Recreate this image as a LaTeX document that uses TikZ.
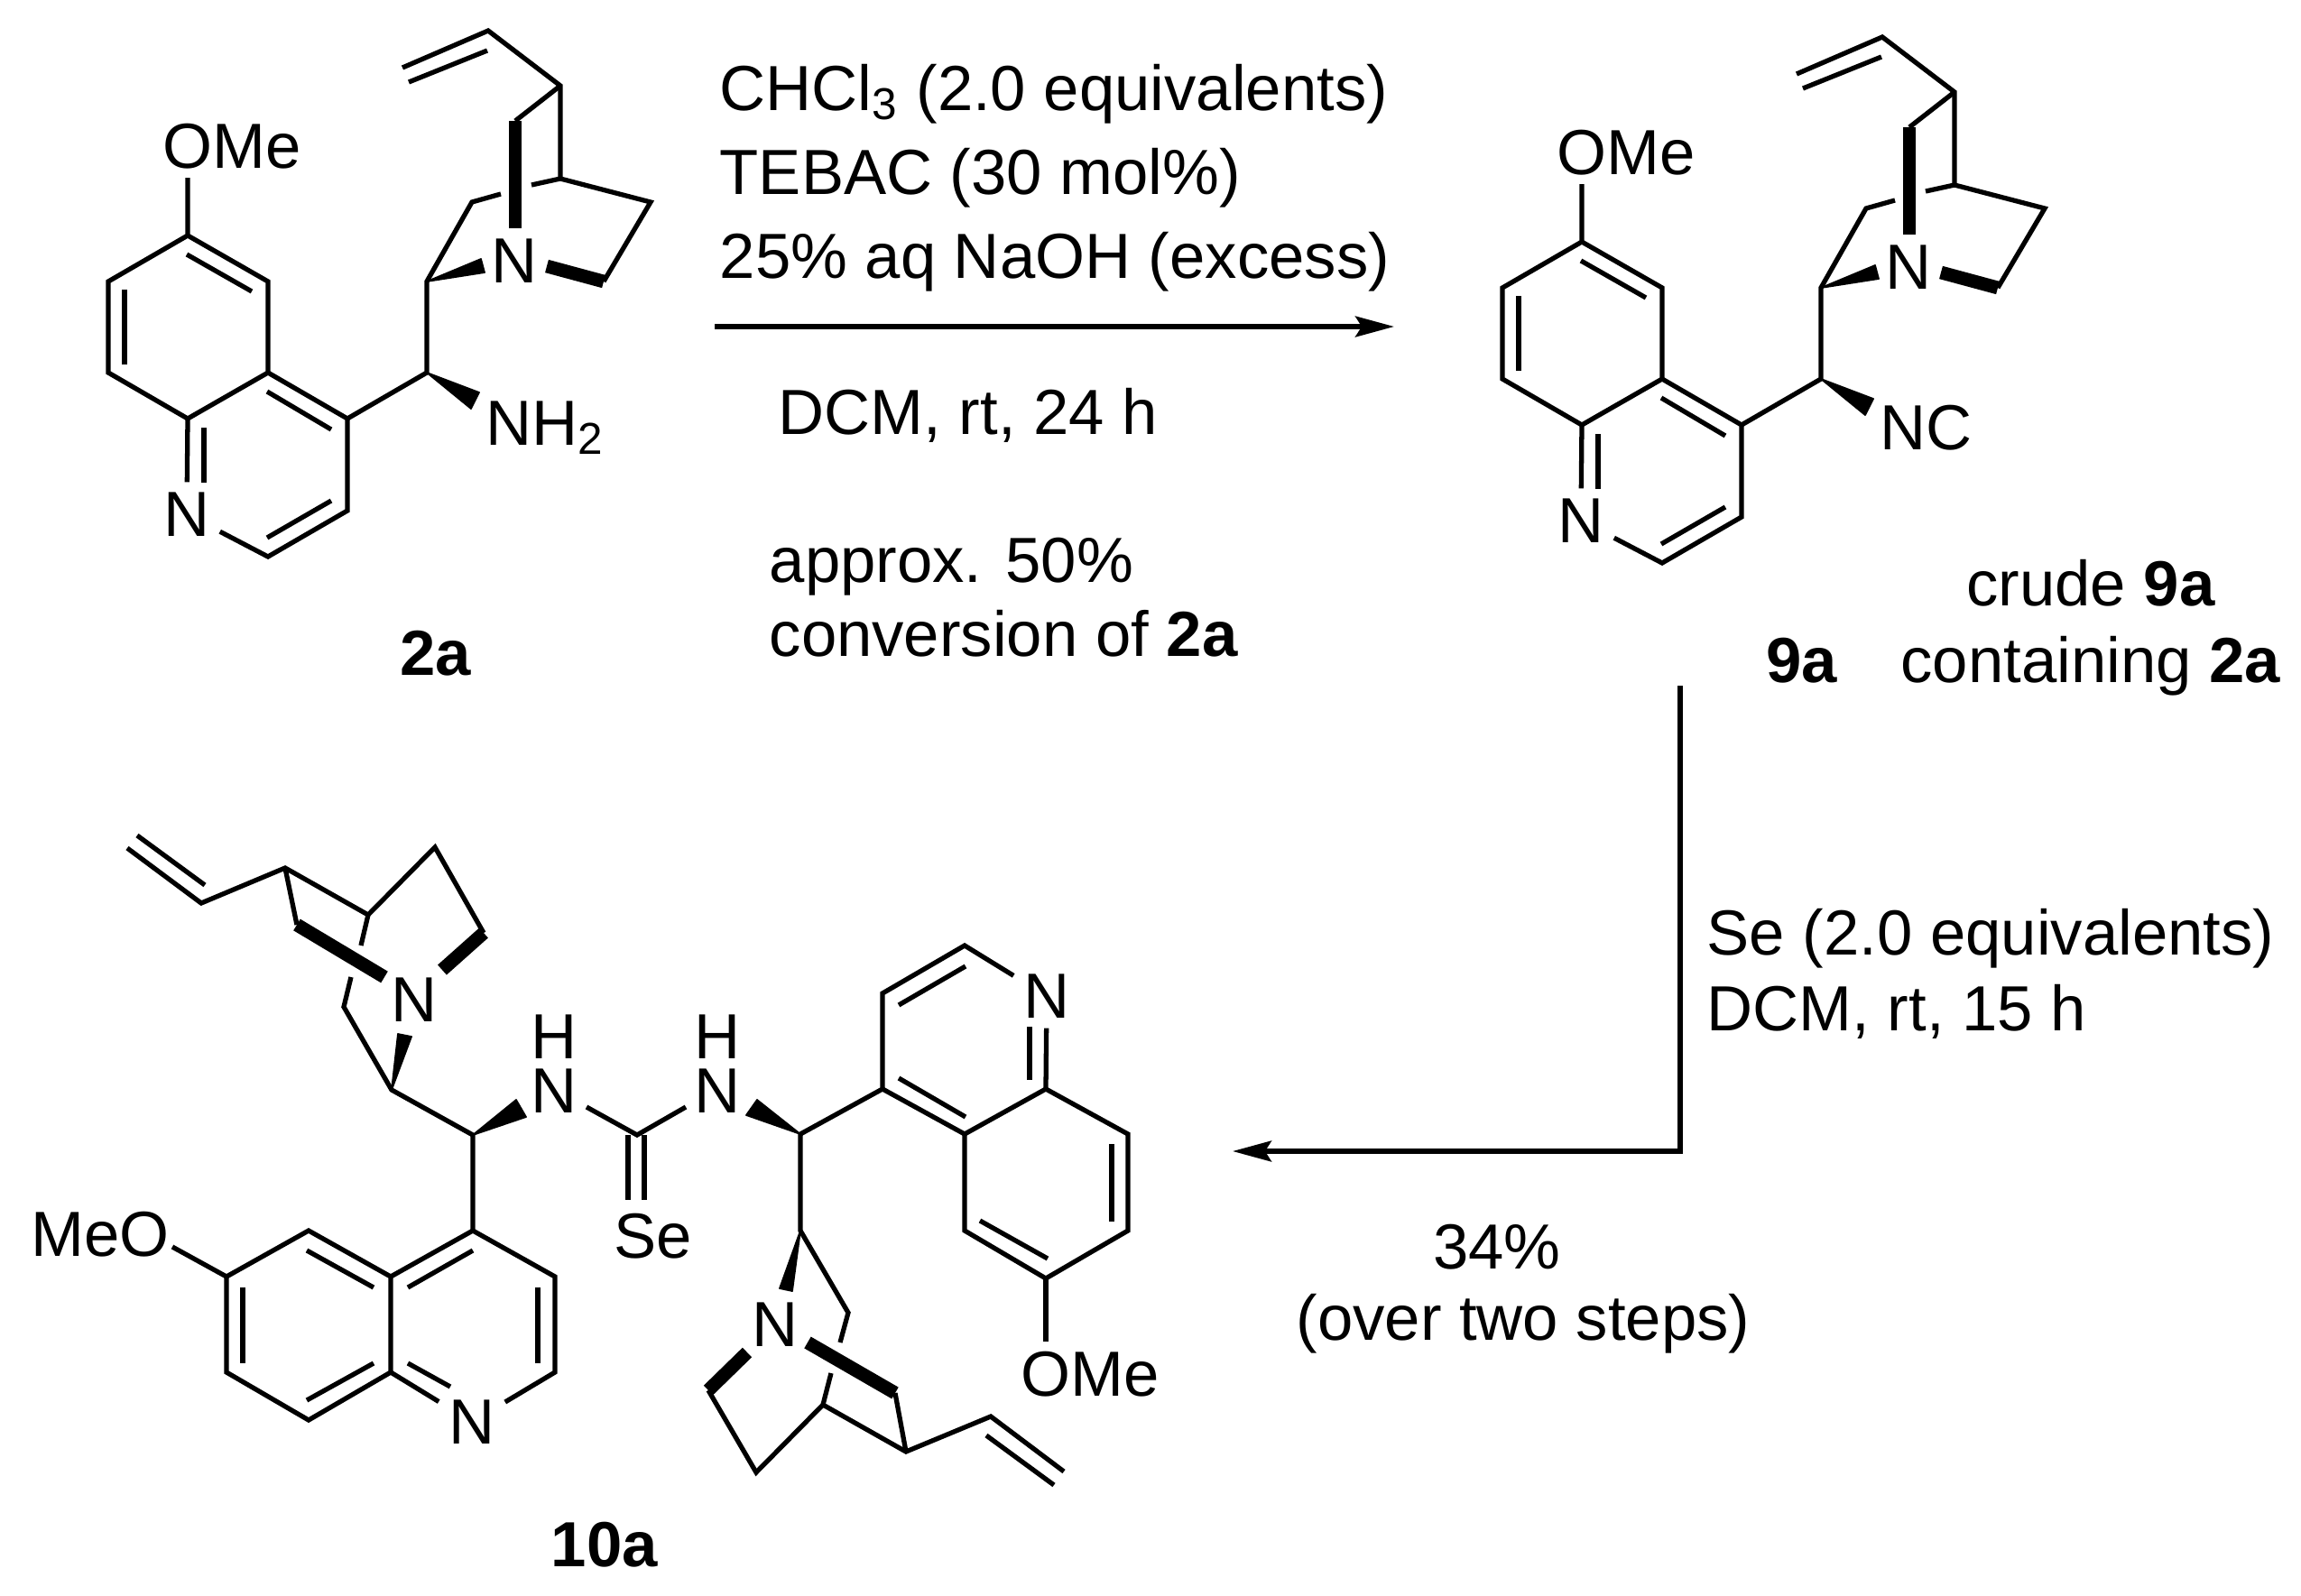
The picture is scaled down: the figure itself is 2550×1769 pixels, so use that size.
\documentclass[tikz,border=0pt]{standalone}
\usepackage{fontspec}
\setmainfont{Liberation Sans}
\usetikzlibrary{arrows.meta,calc,positioning}
\tikzset{
  bond/.style={line width=1.5pt,line join=miter},
  boldbond/.style={line width=4.2pt},
  wedge/.style={fill=black,draw=black,line width=0.5pt,line join=round},
  atom/.style={inner sep=3pt},
  lab/.style={inner sep=0pt},
  txt/.style={anchor=base west,inner sep=0pt},
  ctxt/.style={anchor=base,inner sep=0pt},
  rxn/.style={line width=1.5pt,>={Stealth[length=12.2pt,width=6.5pt,inset=2pt]}}
}
\begin{document}
\begin{tikzpicture}[x=0.01cm,y=-0.01cm,every node/.style={font=\fontsize{20.1}{24}\selectfont}]
  \useasboundingbox (0,0) rectangle (2550,1769);
  \foreach \m/\dx/\dy in {s/0/0,p/1545/7}{
    \begin{scope}[shift={(\dx,\dy)}]
      \coordinate (\m-c6) at (208,261);
      \coordinate (\m-c5) at (297,312);
      \coordinate (\m-c4a) at (297,413);
      \coordinate (\m-c8a) at (208,464);
      \coordinate (\m-c8) at (120,413);
      \coordinate (\m-c7) at (120,312);
      \coordinate (\m-c4) at (385,464);
      \coordinate (\m-c3) at (385,566);
      \coordinate (\m-c2) at (297,617);
      \coordinate (\m-c9) at (473,413);
      \coordinate (\m-c8p) at (473,312);
      \coordinate (\m-cq) at (523,224);
      \coordinate (\m-cb) at (621,198);
      \coordinate (\m-cr) at (721,224);
      \coordinate (\m-cs) at (669,312);
      \coordinate (\m-ct) at (621,95);
      \coordinate (\m-cv) at (541,34);
      \coordinate (\m-ve) at (446,75);
      \coordinate (\m-cbr) at (571,134);
      \node[atom] (\m-n1) at (207,570) {N};
      \node[atom] (\m-nq) at (570,289) {N};
      \node[lab] (\m-ome) at (257,162) {OMe};
      \coordinate (\m-oe) at (208,197);
      \draw[bond] (\m-oe) -- (\m-c6) -- (\m-c5) -- (\m-c4a) -- (\m-c8a) -- (\m-c8) -- (\m-c7) -- (\m-c6);
      \draw[bond] (\m-c4a) -- (\m-c4) -- (\m-c3) -- (\m-c2) -- (\m-n1);
      \draw[bond] (\m-c8a) -- (\m-n1);
      \draw[bond] (\m-c4) -- (\m-c9) -- (\m-c8p) -- (\m-cq) -- (555,215);
      \draw[bond] (589,205) -- (\m-cb) -- (\m-cr) -- (\m-cs);
      \draw[bond] (\m-cb) -- (\m-ct) -- (\m-cv) -- (\m-ve);
      \draw[bond] (\m-ct) -- (\m-cbr);
      \draw[bond] (207,282) -- (279,323);
      \draw[bond] (138,321) -- (138,404);
      \draw[bond] (296,434) -- (367,476);
      \draw[bond] (226,474) -- (226,535);
      \draw[bond] (367,555) -- (296,596);
      \draw[bond] (453,91) -- (540,56);
      \draw[boldbond] (\m-cbr) -- (571,253);
      \draw[boldbond] (606,295) -- (\m-cs);
      \fill[wedge] (\m-c8p) -- (533,287) -- (537,302) -- cycle;
      \fill[wedge] (\m-c9) -- (531,435) -- (522,453) -- cycle;
    \end{scope}
  }
  \node[txt] (s-nh) at (538,493) {NH\textsubscript{2}};
  \node[lab,anchor=west] (p-nc) at (2083,474) {NC};
  \node[ctxt] (lab2a) at (483,748) {\textbf{2a}};
  \node[ctxt] (lab9a) at (1997,756) {\textbf{9a}};
  \node[ctxt] (lab10a) at (670,1736) {\textbf{10a}};
  \node[ctxt] (crude) at (2317,671) {crude \textbf{9a}};
  \node[ctxt] (cont) at (2317,756) {containing \textbf{2a}};
  \node[txt] (cond1) at (797,122) {CHCl\textsubscript{3} (2.0 equivalents)};
  \node[txt] (cond2) at (797,215) {TEBAC (30 mol\%)};
  \node[txt] (cond3) at (797,308) {25\% aq NaOH (excess)};
  \node[txt] (cond4) at (862,481) {DCM, rt, 24 h};
  \node[txt] (cond5) at (852,645) {approx. 50\%};
  \node[txt] (cond6) at (852,727) {conversion of \textbf{2a}};
  \node[txt] (cond7) at (1891,1058) {Se (2.0 equivalents)};
  \node[txt] (cond8) at (1891,1142) {DCM, rt, 15 h};
  \node[ctxt] (yield1) at (1659,1406) {34\%};
  \node[ctxt] (yield2) at (1688,1485) {(over two steps)};
  \coordinate (a1s) at (792,362);
  \coordinate (a1e) at (1545,362);
  \coordinate (a2s) at (1862,760);
  \coordinate (a2m) at (1862,1276);
  \coordinate (a2e) at (1366,1276);
  \draw[rxn,->] (a1s) -- (a1e);
  \draw[rxn,->] (a2s) -- (a2m) -- (a2e);
  \coordinate (ve1) at (141,940);
  \coordinate (cv1) at (223,1001);
  \coordinate (ct1) at (316,962);
  \coordinate (cb1) at (408,1014);
  \coordinate (cu1) at (482,939);
  \coordinate (cr1) at (536,1034);
  \coordinate (cbr1) at (329,1025);
  \coordinate (cq1) at (381,1116);
  \coordinate (cs1) at (434,1208);
  \coordinate (c91) at (524,1258);
  \coordinate (c41) at (524,1364);
  \coordinate (c4a1) at (433,1415);
  \coordinate (c51) at (342,1364);
  \coordinate (c61) at (251,1415);
  \coordinate (c71) at (251,1521);
  \coordinate (c81) at (342,1574);
  \coordinate (c8a1) at (433,1521);
  \coordinate (c21) at (615,1521);
  \coordinate (c31) at (615,1415);
  \coordinate (cse) at (706,1258);
  \node[atom] (nq1) at (459,1108) {N};
  \node[atom] (n11) at (523,1576) {N};
  \node[lab,align=center] (nh1) at (614,1179) {H\\[-7pt]N};
  \node[lab,align=center] (nh2) at (795,1179) {H\\[-7pt]N};
  \node[lab] (meo) at (111,1368) {MeO};
  \node[lab] (se) at (724,1370) {Se};
  \coordinate (meoe) at (191,1382);
  \coordinate (nh1e) at (650,1227);
  \coordinate (nh2e) at (760,1227);
  \draw[bond] (ve1) -- (cv1) -- (ct1) -- (cb1) -- (cu1) -- (cr1);
  \draw[bond] (152,926) -- (227,981);
  \draw[bond] (ct1) -- (cbr1);
  \draw[bond] (cb1) -- (400,1048);
  \draw[bond] (389,1083) -- (cq1) -- (cs1) -- (c91) -- (c41);
  \draw[bond] (meoe) -- (c61) -- (c51) -- (c4a1) -- (c8a1) -- (c81) -- (c71) -- (c61);
  \draw[bond] (c4a1) -- (c41) -- (c31) -- (c21) -- (n11);
  \draw[bond] (c8a1) -- (n11);
  \draw[bond] (340,1386) -- (414,1427);
  \draw[bond] (269,1427) -- (269,1511);
  \draw[bond] (340,1552) -- (414,1511);
  \draw[bond] (452,1511) -- (499,1537);
  \draw[bond] (596,1427) -- (596,1511);
  \draw[bond] (524,1386) -- (452,1427);
  \draw[bond] (nh1e) -- (cse) -- (nh2e);
  \draw[bond] (696,1258) -- (696,1330);
  \draw[bond] (714,1258) -- (714,1330);
  \draw[boldbond] (cr1) -- (490,1075);
  \draw[boldbond] (cbr1) -- (426,1083);
  \fill[wedge] (cs1) -- (441,1146) -- (456,1149) -- cycle;
  \fill[wedge] (c91) -- (572,1219) -- (583,1238) -- cycle;
  \coordinate (c92) at (887,1257);
  \coordinate (c42) at (978,1207);
  \coordinate (c32) at (978,1101);
  \coordinate (c22) at (1069,1048);
  \coordinate (c8a2) at (1159,1207);
  \coordinate (c82) at (1250,1257);
  \coordinate (c72) at (1250,1364);
  \coordinate (c62) at (1159,1417);
  \coordinate (c52) at (1069,1364);
  \coordinate (c4a2) at (1069,1257);
  \coordinate (cs2) at (887,1364);
  \coordinate (cq2) at (940,1455);
  \coordinate (cr2) at (785,1541);
  \coordinate (cd2) at (838,1632);
  \coordinate (cb2) at (912,1557);
  \coordinate (ct2) at (1004,1609);
  \coordinate (cbr2) at (992,1544);
  \coordinate (cv2) at (1098,1570);
  \coordinate (ve2) at (1179,1631);
  \node[atom] (n12) at (1160,1104) {N};
  \node[atom] (nq2) at (859,1468) {N};
  \node[lab] (ome2) at (1208,1523) {OMe};
  \coordinate (oe2) at (1159,1487);
  \draw[bond] (c92) -- (c42) -- (c32) -- (c22) -- (n12);
  \draw[bond] (c42) -- (c4a2) -- (c8a2) -- (c82) -- (c72) -- (c62) -- (c52) -- (c4a2);
  \draw[bond] (c8a2) -- (n12);
  \draw[bond] (1141,1138) -- (1141,1197);
  \draw[bond] (996,1114) -- (1070,1071);
  \draw[bond] (996,1195) -- (1070,1238);
  \draw[bond] (1232,1268) -- (1232,1354);
  \draw[bond] (1086,1353) -- (1161,1395);
  \draw[bond] (c62) -- (oe2);
  \draw[bond] (c92) -- (cs2) -- (cq2) -- (931,1488);
  \draw[bond] (921,1522) -- (cb2) -- (cd2) -- (cr2);
  \draw[bond] (cb2) -- (ct2) -- (cv2) -- (ve2);
  \draw[bond] (ct2) -- (cbr2);
  \draw[bond] (1093,1591) -- (1168,1646);
  \draw[boldbond] (828,1499) -- (cr2);
  \draw[boldbond] (895,1488) -- (cbr2);
  \fill[wedge] (cs2) -- (878,1431) -- (864,1428) -- cycle;
  \fill[wedge] (c92) -- (839,1219) -- (827,1236) -- cycle;
\end{tikzpicture}
\end{document}
